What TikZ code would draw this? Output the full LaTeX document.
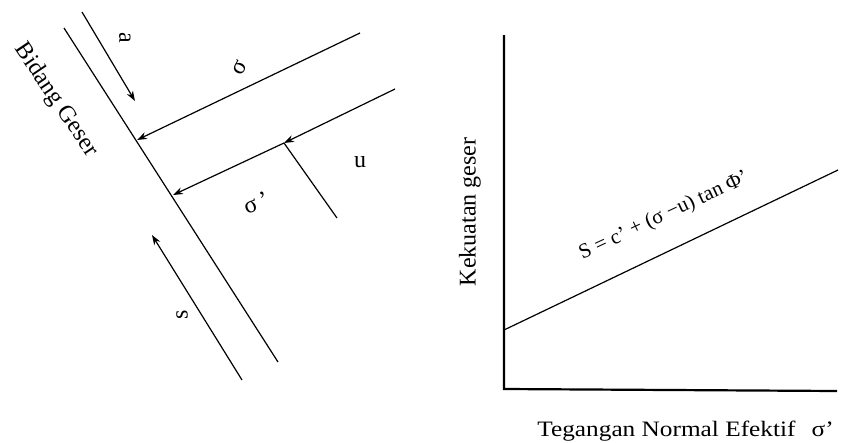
\documentclass[tikz,border=0pt]{standalone}
\usepackage{fontspec}
\setmainfont{Liberation Serif}
\usetikzlibrary{arrows.meta}

\begin{document}
\begin{tikzpicture}[x=1pt, y=-1pt,
  every node/.style={font=\fontsize{24}{28}\selectfont, inner sep=1pt},
  plane/.style={line width=1.2pt},
  force/.style={line width=1.2pt, -{Stealth[length=10pt,width=7pt]}},
  axisline/.style={line width=2.2pt}]
\useasboundingbox (0,0) rectangle (851,442);

% left: shear plane and forces
\coordinate (planetop) at (64,28);
\coordinate (planebot) at (278,362);
\draw[plane] (planetop) -- (planebot);
\coordinate (tauS) at (82,12);
\coordinate (tauE) at (135,101);
\draw[force] (tauS) -- (tauE);
\coordinate (sigS) at (360,33);
\coordinate (sigE) at (137,140);
\draw[force] (sigS) -- (sigE);
\coordinate (uS) at (395,89);
\coordinate (uE) at (284,143);
\draw[force] (uS) -- (uE);
\coordinate (sigeE) at (173,195);
\draw[force] (uE) -- (sigeE);
\coordinate (uleg) at (337,218);
\draw[plane] (uE) -- (uleg);
\coordinate (sS) at (242,380);
\coordinate (sE) at (152,235);
\draw[force] (sS) -- (sE);

\node[rotate=-56] (bidang) at (56,100) {Bidang Geser};
\node[rotate=-90] (lbla) at (125,38) {a};
\node[rotate=60] (lblsig) at (240,68) {σ};
\node[rotate=20] (lblsige) at (256,203) {σ\,'};
\node (lblu) at (360,162) {u};
\node[rotate=90] (lbls) at (182,315) {s};

% right: shear strength graph
\coordinate (origin) at (504,389);
\coordinate (ytop) at (504,35);
\coordinate (xend) at (837,391);
\draw[axisline] (ytop) -- (origin) -- (xend);
\coordinate (envS) at (504,330);
\coordinate (envE) at (838,170);
\draw[plane] (envS) -- (envE);

\node[rotate=90] (ylabel) at (470,212) {Kekuatan geser};
\node[rotate=25, font=\fontsize{21}{25}\selectfont] (eqn) at (664,216) {S = c' + (σ −u) tan Φ'};
\node[anchor=west, xscale=1.15, font=\fontsize{22}{26}\selectfont] (xlabel) at (536,431)
  {Tegangan Normal Efektif\hspace{14pt}σ'};
\end{tikzpicture}
\end{document}
